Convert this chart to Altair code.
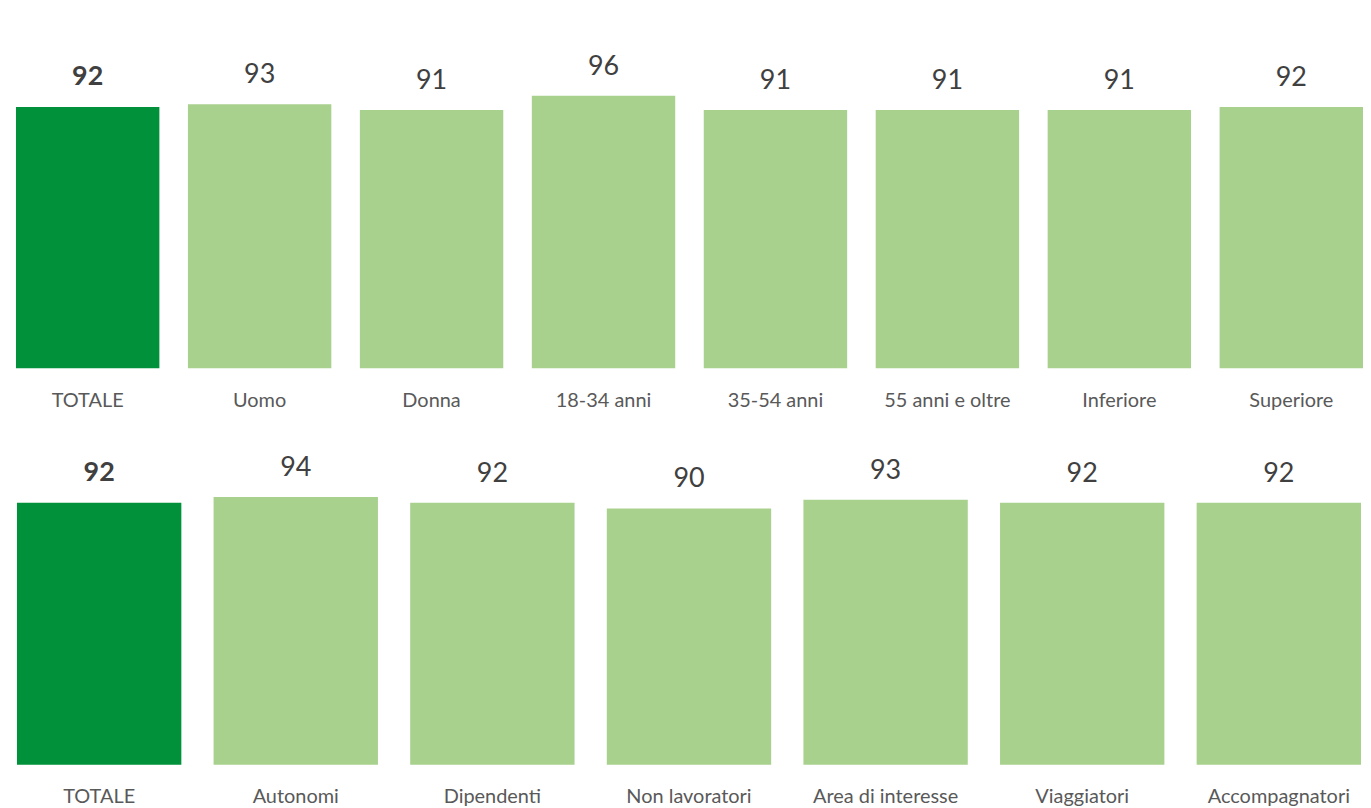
import altair as alt
import pandas as pd

top_categories = ["TOTALE", "Uomo", "Donna", "18-34 anni", "35-54 anni",
                  "55 anni e oltre", "Inferiore", "Superiore"]
top_values = [92, 93, 91, 96, 91, 91, 91, 92]

bottom_categories = ["TOTALE", "Autonomi", "Dipendenti", "Non lavoratori",
                     "Area di interesse", "Viaggiatori", "Accompagnatori"]
bottom_values = [92, 94, 92, 90, 93, 92, 92]

DARK = "#00913A"
LIGHT = "#A9D18E"
FONT = "Lato"


def row(cats, vals, width, height, ymax, pad_inner, pad_outer):
    df = pd.DataFrame({"cat": cats, "val": vals})
    x = alt.X("cat:N", sort=cats, title=None,
              scale=alt.Scale(paddingInner=pad_inner, paddingOuter=pad_outer, align=1),
              axis=alt.Axis(labelAngle=0, labelFontSize=20, labelFont=FONT,
                            labelColor="#595959", labelBaseline="middle",
                            labelPadding=32, ticks=False, domain=False, grid=False))
    y = alt.Y("val:Q", axis=None,
              scale=alt.Scale(domain=[0, ymax], nice=False, zero=True))
    base = alt.Chart(df).encode(x=x, y=y)
    bars = base.mark_bar().encode(
        color=alt.condition(alt.datum.cat == "TOTALE", alt.value(DARK), alt.value(LIGHT))
    )
    txt_bold = base.mark_text(font=FONT, fontSize=27, fontWeight="bold", color="#404040",
                              baseline="alphabetic", dy=-22).encode(
        text="val:Q").transform_filter(alt.datum.cat == "TOTALE")
    txt = base.mark_text(font=FONT, fontSize=27, color="#404040",
                         baseline="alphabetic", dy=-21).encode(
        text="val:Q").transform_filter(alt.datum.cat != "TOTALE")
    return alt.layer(bars, txt_bold, txt).properties(width=width, height=height)


top = row(top_categories, top_values, 1360, 360, 126.4, 0.166, 0.0232)
bottom = row(bottom_categories, bottom_values, 1358, 335, 117.2, 0.164, 0.0228)

chart = alt.vconcat(top, bottom, spacing=21).properties(
    padding=0, background="white"
).configure_view(stroke=None, strokeWidth=0)

chart.save("out.html", embed_options={"renderer": "svg", "actions": False})
